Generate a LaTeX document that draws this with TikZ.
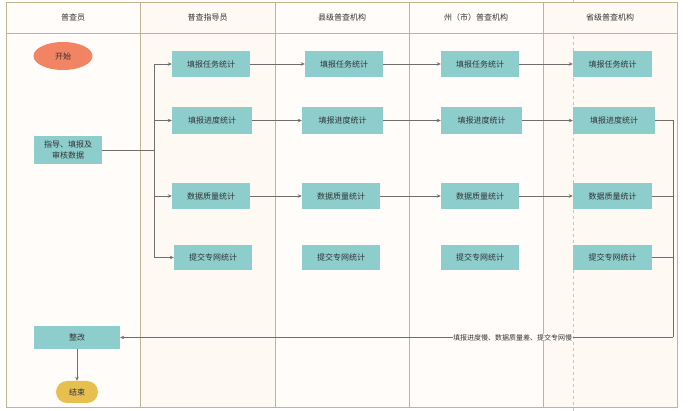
\documentclass[tikz,border=0pt]{standalone}
\usepackage{fontspec}
\setmainfont{Noto Sans CJK SC}
\usetikzlibrary{arrows.meta,shapes.geometric}
\definecolor{laneA}{HTML}{FFFCFA}
\definecolor{laneB}{HTML}{FEF9F3}
\definecolor{lanec}{HTML}{BFB590}
\definecolor{boxc}{HTML}{8DCDCC}
\definecolor{startc}{HTML}{F08463}
\definecolor{endc}{HTML}{E6BF4F}
\definecolor{linec}{HTML}{6E6E6E}
\definecolor{txtc}{HTML}{333333}
\tikzset{
  stepbox/.style={rectangle, fill=boxc, draw=none, inner sep=0pt, minimum height=26pt, minimum width=78pt, text=txtc, font=\fontsize{8}{10}\selectfont, align=center},
  headtxt/.style={text=txtc, font=\fontsize{8}{10}\selectfont},
  conn/.style={draw=linec, line width=0.8pt},
  arr/.style={conn, -{Stealth[length=4pt,width=3.5pt]}},
}
\begin{document}
\begin{tikzpicture}[x=1pt,y=-1pt]
\useasboundingbox (0,0) rectangle (688,411);
% lanes
\fill[laneA] (6,3) rectangle (140,407);
\fill[laneB] (140,3) rectangle (275,407);
\fill[laneA] (275,3) rectangle (409,407);
\fill[laneA] (409,3) rectangle (543,407);
\fill[laneB] (543,3) rectangle (677,407);
\draw[gray!45, dashed, line width=0.5pt] (573,0) -- (573,411);
\fill[laneA] (6,3.5) rectangle (140,34);
\fill[laneB] (140,3.5) rectangle (275,34);
\fill[laneA] (275,3.5) rectangle (409,34);
\fill[laneA] (409,3.5) rectangle (543,34);
\fill[laneB] (543,3.5) rectangle (677,34);
\draw[lanec, line width=1pt] (6,3) rectangle (677,407);
\draw[lanec, line width=1pt] (6,34) -- (677,34);
\foreach \x in {140,275,409,543} \draw[lanec, line width=1pt] (\x,3) -- (\x,407);
\node[headtxt] (h1) at (73,17) {普查员};
\node[headtxt] (h2) at (207.5,17) {普查指导员};
\node[headtxt] (h3) at (342,17) {县级普查机构};
\node[headtxt] (h4) at (476,17) {州（市）普查机构};
\node[headtxt] (h5) at (610,17) {省级普查机构};
% lane 1
\node[ellipse, fill=startc, minimum width=59pt, minimum height=28pt, inner sep=0pt, text=txtc, font=\fontsize{8}{10}\selectfont] (start) at (63,56) {开始};
\node[stepbox, minimum width=68pt, minimum height=28pt, font=\fontsize{8}{10.5}\selectfont] (zd) at (68,150) {指导、填报及\\审核数据};
\node[stepbox, minimum width=86pt, minimum height=23pt] (zg) at (77,337.5) {整改};
\node[rectangle, rounded corners=11pt, fill=endc, minimum width=42pt, minimum height=22pt, inner sep=0pt, text=txtc, font=\fontsize{8}{10}\selectfont] (end) at (77,392) {结束};
% lane 2
\node[stepbox] (rw2) at (211,64) {填报任务统计};
\node[stepbox, minimum width=80pt, minimum height=27pt] (jd2) at (212,120.5) {填报进度统计};
\node[stepbox] (sj2) at (211,196) {数据质量统计};
\node[stepbox, minimum height=25pt] (tj2) at (213,257.5) {提交专网统计};
% lane 3
\node[stepbox] (rw3) at (344,64) {填报任务统计};
\node[stepbox, minimum width=81pt, minimum height=27pt] (jd3) at (342.5,120.5) {填报进度统计};
\node[stepbox] (sj3) at (341,196) {数据质量统计};
\node[stepbox, minimum height=25pt] (tj3) at (341,257.5) {提交专网统计};
% lane 4
\node[stepbox] (rw4) at (480,64) {填报任务统计};
\node[stepbox, minimum width=81pt, minimum height=27pt] (jd4) at (481.5,120.5) {填报进度统计};
\node[stepbox] (sj4) at (480,196) {数据质量统计};
\node[stepbox, minimum height=25pt] (tj4) at (480,257.5) {提交专网统计};
% lane 5
\node[stepbox, minimum width=79pt] (rw5) at (612.5,64) {填报任务统计};
\node[stepbox, minimum width=82pt, minimum height=27pt] (jd5) at (614,120.5) {填报进度统计};
\node[stepbox, minimum width=79pt] (sj5) at (612.5,196) {数据质量统计};
\node[stepbox, minimum width=79pt, minimum height=25pt] (tj5) at (612.5,257.5) {提交专网统计};
% trunk
\coordinate (tk) at (154,150);
\draw[conn] (zd.east) -- (tk);
\draw[conn] (tk |- rw2.west) -- (tk |- tj2.west);
\draw[arr] (tk |- rw2.west) -- (rw2.west);
\draw[arr] (tk |- jd2.west) -- (jd2.west);
\draw[arr] (tk |- sj2.west) -- (sj2.west);
\draw[arr] (tk |- tj2.west) -- (tj2.west);
% lane to lane
\draw[arr] (rw2.east) -- (rw3.west);
\draw[arr] (jd2.east) -- (jd3.west);
\draw[arr] (sj2.east) -- (sj3.west);
\draw[arr] (rw3.east) -- (rw4.west);
\draw[arr] (jd3.east) -- (jd4.west);
\draw[arr] (sj3.east) -- (sj4.west);
\draw[arr] (rw4.east) -- (rw5.west);
\draw[arr] (jd4.east) -- (jd5.west);
\draw[arr] (sj4.east) -- (sj5.west);
% feedback
\coordinate (fb) at (673,337.5);
\draw[conn] (jd5.east) -| (fb);
\draw[arr] (fb) -- (zg.east);
\draw[conn] (sj5.east) -- (sj5.east -| fb);
\draw[conn] (tj5.east) -- (tj5.east -| fb);
\node[fill=laneA, inner sep=0.5pt, text=txtc, font=\fontsize{7}{8}\selectfont] (fbl) at (512.5,337.5) {填报进度慢、数据质量差、提交专网慢};
\draw[arr] (zg.south) -- (end.north);
\end{tikzpicture}
\end{document}
